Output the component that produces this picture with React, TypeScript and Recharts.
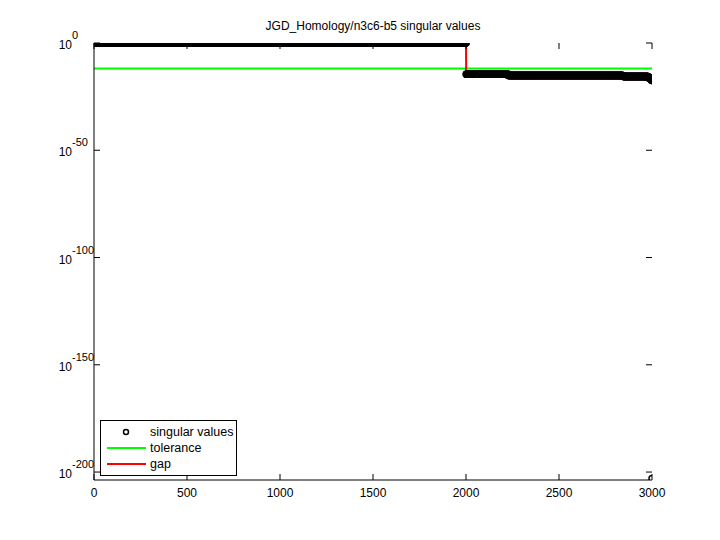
import {
  ComposedChart,
  Scatter,
  Line,
  XAxis,
  YAxis,
  ReferenceLine
} from "recharts";

const chartTitle = "JGD_Homology/n3c6-b5 singular values";

// singular values, stored as runs: first index of a run and the log10 value it holds
const runStartIndex = [1, 2001, 2227, 2845, 2980, 2992, 2998, 3000];
const runLog10Value = [0, -14.6, -15.1, -15.6, -16.2, -16.8, -17.5, -203.0];
const lastIndex = 3000;

const toleranceLog10 = -11.9;
const gapIndex = [2000, 2001];
const gapLog10 = [0, -14.6];

const xTicks = [0, 500, 1000, 1500, 2000, 2500, 3000];
const yTicks = [0, -50, -100, -150, -200];

const singularValues = runStartIndex.flatMap((start, i) => {
  const end = i + 1 < runStartIndex.length ? runStartIndex[i + 1] - 1 : lastIndex;
  return Array.from({ length: end - start + 1 }, (_, k) => ({
    index: start + k,
    value: runLog10Value[i]
  }));
});

const gapData = gapIndex.map((index, i) => ({ index, value: gapLog10[i] }));

const W = 720;
const H = 540;
const plotLeft = 94;
const plotRight = 652;
const plotTop = 43;
const plotBottom = 480;
const font = "'Liberation Sans', Arial, Helvetica, sans-serif";

function XTick(props: any) {
  const { x, payload } = props;
  return (
    <g>
      <line x1={x} x2={x} y1={plotBottom} y2={plotBottom - 6} stroke="#000" />
      <line x1={x} x2={x} y1={plotTop} y2={plotTop + 6} stroke="#000" />
      <text x={x} y={497} textAnchor="middle" fontSize={12} fontFamily={font} fill="#000">
        {payload.value}
      </text>
    </g>
  );
}

function YTick(props: any) {
  const { y, payload } = props;
  return (
    <g>
      <line x1={plotLeft} x2={plotLeft + 6} y1={y} y2={y} stroke="#000" />
      <line x1={plotRight} x2={plotRight - 6} y1={y} y2={y} stroke="#000" />
      <text x={72} y={y + 6} textAnchor="end" fontSize={12} fontFamily={font} fill="#000">
        10
      </text>
      <text x={72} y={y - 4} textAnchor="start" fontSize={11} fontFamily={font} fill="#000">
        {payload.value}
      </text>
    </g>
  );
}

function Dot(props: any) {
  const { cx, cy } = props;
  return <circle cx={cx} cy={cy} r={3} fill="none" stroke="#000" strokeWidth={1.5} />;
}

function LegendBox() {
  const row = { display: "flex", alignItems: "center", height: 16 } as const;
  return (
    <div
      style={{
        position: "absolute",
        left: 100,
        top: 420,
        border: "1px solid #000",
        background: "#fff",
        width: 137,
        height: 56,
        boxSizing: "border-box",
        padding: "3px 0 0 5px",
        fontFamily: font,
        fontSize: 12.5,
        color: "#000"
      }}
    >
      <div style={row}>
        <svg width={40} height={16}>
          <circle cx={20} cy={8} r={2.5} fill="none" stroke="#000" strokeWidth={1.5} />
        </svg>
        <span style={{ marginLeft: 4 }}>singular values</span>
      </div>
      <div style={row}>
        <svg width={40} height={16}>
          <line x1={1} x2={40} y1={8} y2={8} stroke="#00ff00" strokeWidth={2} />
        </svg>
        <span style={{ marginLeft: 4 }}>tolerance</span>
      </div>
      <div style={row}>
        <svg width={40} height={16}>
          <line x1={1} x2={40} y1={8} y2={8} stroke="#ff0000" strokeWidth={2} />
        </svg>
        <span style={{ marginLeft: 4 }}>gap</span>
      </div>
    </div>
  );
}

export default function App() {
  return (
    <div style={{ position: "absolute", left: 0, top: 0, width: W, height: H, background: "#fff" }}>
      <div
        style={{
          position: "absolute",
          left: plotLeft,
          width: plotRight - plotLeft,
          top: 19,
          textAlign: "center",
          fontFamily: font,
          fontSize: 12,
          color: "#000"
        }}
      >
        {chartTitle}
      </div>
      <ComposedChart
        width={W}
        height={H}
        margin={{ top: plotTop, right: W - plotRight, left: plotLeft - 80, bottom: H - plotBottom - 30 }}
      >
        <XAxis
          dataKey="index"
          type="number"
          domain={[0, 3000]}
          ticks={xTicks}
          allowDataOverflow
          height={30}
          tickLine={false}
          axisLine={{ stroke: "#000" }}
          tick={<XTick />}
        />
        <XAxis
          xAxisId="top"
          orientation="top"
          type="number"
          domain={[0, 3000]}
          height={0}
          tick={false}
          tickLine={false}
          axisLine={{ stroke: "#000" }}
        />
        <YAxis
          type="number"
          domain={[-203.7, 0]}
          ticks={yTicks}
          allowDataOverflow
          width={80}
          tickLine={false}
          axisLine={{ stroke: "#000" }}
          tick={<YTick />}
        />
        <YAxis
          yAxisId="right"
          orientation="right"
          type="number"
          domain={[-203.7, 0]}
          width={0}
          tick={false}
          tickLine={false}
          axisLine={{ stroke: "#000" }}
        />
        <Scatter
          name="singular values"
          data={singularValues}
          dataKey="value"
          shape={<Dot />}
          isAnimationActive={false}
        />
        <ReferenceLine y={toleranceLog10} stroke="#00ff00" strokeWidth={2} />
        <Line
          name="gap"
          data={gapData}
          dataKey="value"
          stroke="#ff0000"
          strokeWidth={2}
          dot={false}
          isAnimationActive={false}
        />
      </ComposedChart>
      <LegendBox />
    </div>
  );
}
